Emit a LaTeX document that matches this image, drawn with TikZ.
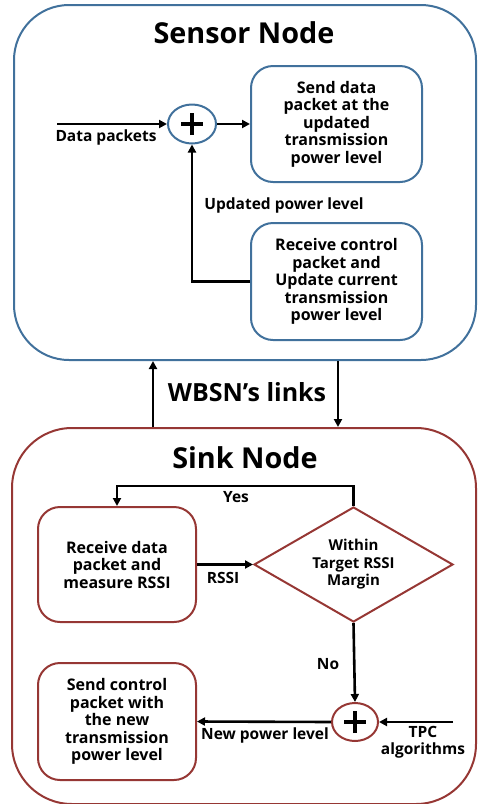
\documentclass[tikz,border=0pt]{standalone}
\usepackage{fontspec}
\setmainfont{Open Sans}
\usetikzlibrary{shapes.geometric,arrows.meta}

\definecolor{sensorblue}{RGB}{65,113,156}
\definecolor{sinkred}{RGB}{150,55,52}

\tikzset{
  outerbox/.style={draw, line width=2pt, rounded corners=#1, inner sep=0pt},
  procbox/.style={draw, line width=2pt, rounded corners=22pt, inner sep=0pt,
                  align=center, font=\bfseries\fontsize{16}{17.5}\selectfont},
  sumnode/.style={draw, line width=2pt, ellipse, inner sep=0pt},
  flow/.style={line width=2.6pt, -{Triangle[length=8pt,width=8pt]}},
  lbl/.style={font=\bfseries\fontsize{15.5}{16.5}\selectfont, align=center, inner sep=0pt},
  title/.style={font=\bfseries\fontsize{28.8}{32}\selectfont, inner sep=0pt},
}

\begin{document}
\begin{tikzpicture}[x=1pt, y=-1pt]
\useasboundingbox (0,0) rectangle (478,804);

% ---------- Sensor node ----------
\node[outerbox=55pt, sensorblue, minimum width=462pt, minimum height=355pt] (sensor) at (245,182.5) {};
\node[title] (sensortitle) at (244,33) {Sensor Node};

\node[procbox, sensorblue, minimum width=171pt, minimum height=116pt, text=black] (senddata) at (336.5,124)
  {Send data\\packet at the\\updated\\transmission\\power level};
\node[procbox, sensorblue, minimum width=171pt, minimum height=117pt, text=black] (recvctl) at (336.5,281.5)
  {Receive control\\packet and\\Update current\\transmission\\power level};
\node[sumnode, sensorblue, minimum width=48pt, minimum height=39pt] (sumA) at (192,124) {};
\draw[line width=3.6pt] ([xshift=-11pt]sumA.center) -- ([xshift=11pt]sumA.center);
\draw[line width=3.6pt] ([yshift=-11pt]sumA.center) -- ([yshift=11pt]sumA.center);

\coordinate (datain) at (57,124);
\draw[flow] (datain) -- (sumA.west);
\draw[flow] (sumA.east) -- (senddata.west);
\draw[flow] (recvctl.west) -| (sumA.south);
\node[lbl] (lbldata) at (106,137) {Data packets};
\node[lbl] (lblupd) at (284,205) {Updated power level};

% ---------- Links between the nodes ----------
\node[font=\bfseries\fontsize{25}{28}\selectfont, inner sep=0pt] (links) at (247,392) {WBSN’s links};

% ---------- Sink node ----------
\node[outerbox=60pt, sinkred, minimum width=464pt, minimum height=376pt] (sink) at (244,616) {};
\node[title] (sinktitle) at (245,458) {Sink Node};

\coordinate (upx) at (153,0);
\coordinate (downx) at (338,0);
\draw[flow] (sink.north -| upx) -- (sensor.south -| upx);
\draw[flow] (sensor.south -| downx) -- (sink.north -| downx);

\node[procbox, sinkred, minimum width=158pt, minimum height=115pt, text=black] (recvdata) at (117,564.5)
  {Receive data\\packet and\\measure RSSI};
\node[draw, line width=2pt, sinkred, diamond, shape aspect=1.73, inner sep=0pt,
      minimum width=199pt, minimum height=115pt, align=center, text=black,
      font=\bfseries\fontsize{15}{17.5}\selectfont] (check) at (353.5,564.5)
  {Within\\Target RSSI\\Margin};
\node[procbox, sinkred, minimum width=158pt, minimum height=117pt, text=black] (sendctl) at (117,721.5)
  {Send control\\packet with\\the new\\transmission\\power level};
\node[sumnode, sinkred, minimum width=46pt, minimum height=38pt] (sumB) at (355,722) {};
\draw[line width=3.6pt] ([xshift=-11pt]sumB.center) -- ([xshift=11pt]sumB.center);
\draw[line width=3.6pt] ([yshift=-11pt]sumB.center) -- ([yshift=11pt]sumB.center);

\coordinate (yesy) at (0,486);
\draw[flow] (check.north) -- (check.north |- yesy) -| (recvdata.north);
\draw[flow] (recvdata.east) -- (check.west);
\draw[flow] (check.south) -- (sumB.north);
\draw[flow] (sumB.west) -- (sendctl.east);
\coordinate (tpcin) at (453,722);
\draw[flow] (tpcin) -- (sumB.east);

\node[lbl] (lblyes) at (236,497) {Yes};
\node[lbl] (lblrssi) at (223,578) {RSSI};
\node[lbl] (lblno) at (328,664) {No};
\node[lbl] (lblnew) at (265,735) {New power level};
\node[lbl] (lbltpc) at (423,742) {TPC\\algorithms};
\end{tikzpicture}
\end{document}
